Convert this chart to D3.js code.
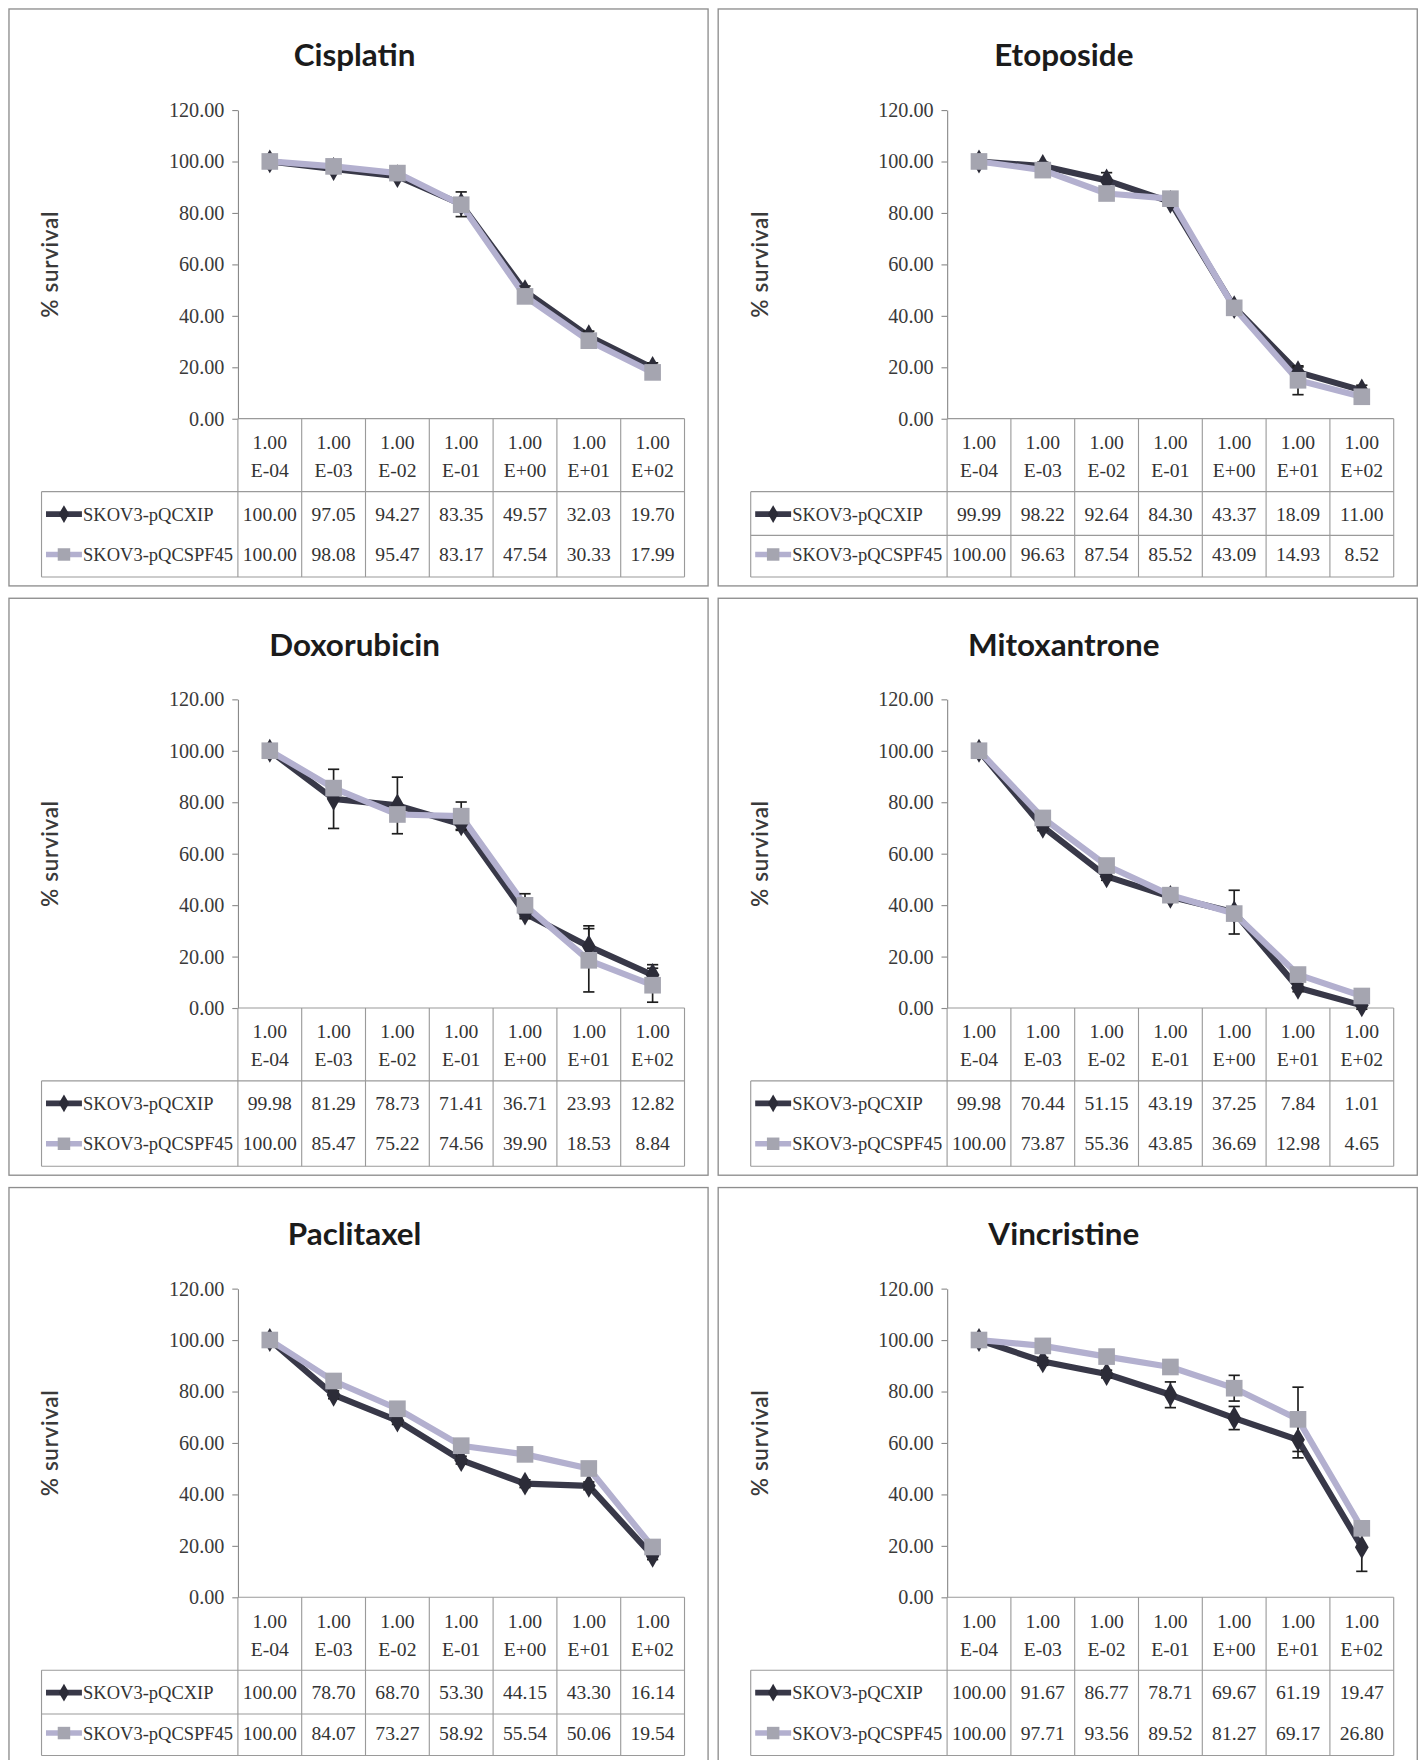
<!DOCTYPE html>
<html>
<head>
<meta charset="utf-8">
<script src="https://cdn.jsdelivr.net/npm/d3@7"></script>
<style>
  html, body { margin: 0; padding: 0; background: #fff; }
  svg { display: block; }
</style>
</head>
<body>
<svg id="chart"></svg>
<script>
// ---------------- DATA ----------------
const drugs = ["Cisplatin", "Etoposide", "Doxorubicin", "Mitoxantrone", "Paclitaxel", "Vincristine"];
const doseMantissa = ["1.00", "1.00", "1.00", "1.00", "1.00", "1.00", "1.00"];
const doseExponent = ["E-04", "E-03", "E-02", "E-01", "E+00", "E+01", "E+02"];
const seriesNames = ["SKOV3-pQCXIP", "SKOV3-pQCSPF45"];
const yTickValues = [0, 20, 40, 60, 80, 100, 120];

const cisplatinXIP   = [100.00, 97.05, 94.27, 83.35, 49.57, 32.03, 19.70];
const cisplatinSPF   = [100.00, 98.08, 95.47, 83.17, 47.54, 30.33, 17.99];
const etoposideXIP   = [99.99, 98.22, 92.64, 84.30, 43.37, 18.09, 11.00];
const etoposideSPF   = [100.00, 96.63, 87.54, 85.52, 43.09, 14.93, 8.52];
const doxorubicinXIP = [99.98, 81.29, 78.73, 71.41, 36.71, 23.93, 12.82];
const doxorubicinSPF = [100.00, 85.47, 75.22, 74.56, 39.90, 18.53, 8.84];
const mitoxantroneXIP = [99.98, 70.44, 51.15, 43.19, 37.25, 7.84, 1.01];
const mitoxantroneSPF = [100.00, 73.87, 55.36, 43.85, 36.69, 12.98, 4.65];
const paclitaxelXIP  = [100.00, 78.70, 68.70, 53.30, 44.15, 43.30, 16.14];
const paclitaxelSPF  = [100.00, 84.07, 73.27, 58.92, 55.54, 50.06, 19.54];
const vincristineXIP = [100.00, 91.67, 86.77, 78.71, 69.67, 61.19, 19.47];
const vincristineSPF = [100.00, 97.71, 93.56, 89.52, 81.27, 69.17, 26.80];

// error bar half-widths
const cisplatinErrXIP   = [1, 1.5, 1.5, 4.8, 2, 2, 2];
const cisplatinErrSPF   = [1, 1, 1, 1.5, 1.5, 1.5, 1.5];
const etoposideErrXIP   = [1, 1.5, 3, 1.5, 1.5, 2, 2];
const etoposideErrSPF   = [1, 1.5, 1.5, 1.5, 1.5, 5.6, 2.5];
const doxorubicinErrXIP = [1, 11.5, 11, 2, 2, 8, 4];
const doxorubicinErrSPF = [1, 2, 2, 5.5, 4.5, 12.3, 6.6];
const mitoxantroneErrXIP = [1, 1.5, 1.5, 1.5, 8.5, 1.5, 1.5];
const mitoxantroneErrSPF = [1, 1.5, 1.5, 1.5, 2, 1.5, 1.5];
const paclitaxelErrXIP  = [1, 1.5, 1.5, 1.5, 1.5, 1.5, 1.5];
const paclitaxelErrSPF  = [1, 1.5, 1.5, 1.5, 1.5, 1.5, 1.5];
const vincristineErrXIP = [1, 1.5, 1.5, 5, 4.5, 7, 9.4];
const vincristineErrSPF = [1, 1.5, 1.5, 1.5, 5, 12.5, 2];

const panels = [
  { title: drugs[0], s1: cisplatinXIP, s2: cisplatinSPF, e1: cisplatinErrXIP, e2: cisplatinErrSPF },
  { title: drugs[1], s1: etoposideXIP, s2: etoposideSPF, e1: etoposideErrXIP, e2: etoposideErrSPF },
  { title: drugs[2], s1: doxorubicinXIP, s2: doxorubicinSPF, e1: doxorubicinErrXIP, e2: doxorubicinErrSPF },
  { title: drugs[3], s1: mitoxantroneXIP, s2: mitoxantroneSPF, e1: mitoxantroneErrXIP, e2: mitoxantroneErrSPF },
  { title: drugs[4], s1: paclitaxelXIP, s2: paclitaxelSPF, e1: paclitaxelErrXIP, e2: paclitaxelErrSPF },
  { title: drugs[5], s1: vincristineXIP, s2: vincristineSPF, e1: vincristineErrXIP, e2: vincristineErrSPF }
];

// ---------------- DRAWING ----------------
const W = 1269, H = 1568;
const svg = d3.select("#chart")
  .attr("width", 1424).attr("height", 1760)
  .attr("viewBox", `0 0 ${W} ${H}`)
  .attr("preserveAspectRatio", "none");

svg.append("rect").attr("width", W).attr("height", H).attr("fill", "#fff");

const darkCol = "#383848", darkMark = "#2c2c38";
const lightCol = "#b3b0cf", lightMark = "#a5a5b0";
const gridCol = "#9a9a9a";
const serif = "'Liberation Serif', 'DejaVu Serif', serif";
const sans = "Lato, 'Open Sans', sans-serif";
const fmt = d3.format(".2f");
const rowDividerPanels = new Set([1, 4]);

const diamond = d3.symbol().type(d3.symbolDiamond).size(130);
const square = d3.symbol().type(d3.symbolSquare).size(220);

panels.forEach((p, i) => {
  const col = i % 2, row = Math.floor(i / 2);
  const px = 8 + col * 632, py = 8 + row * 525;
  const pw = 623, ph = 514;
  const g = svg.append("g").attr("transform", `translate(${px},${py})`);

  // panel frame
  g.append("rect").attr("x", 0).attr("y", 0).attr("width", pw).attr("height", ph)
    .attr("fill", "#fff").attr("stroke", "#8e8e8e").attr("stroke-width", 1.2);

  const axisX = 204, right = 602, yTop = 90, yBase = 365, tableLeft = 29;

  // title
  g.append("text").attr("x", 308).attr("y", 51).attr("text-anchor", "middle")
    .attr("font-family", sans).attr("font-weight", 700).attr("font-size", 28)
    .attr("fill", "#1b1b1b").text(p.title);

  // y label
  g.append("text").attr("transform", `translate(44,${(yTop + yBase) / 2}) rotate(-90)`)
    .attr("text-anchor", "middle").attr("font-family", sans).attr("font-size", 20)
    .attr("font-weight", 600).attr("letter-spacing", 0.6)
    .attr("fill", "#3a3a3a").text("% survival");

  const x = d3.scaleBand().domain(doseExponent).range([axisX, right]);
  const y = d3.scaleLinear().domain([0, 120]).range([yBase, yTop]);
  const cx = d => x(d) + x.bandwidth() / 2;

  // y axis
  const ax = g.append("g").attr("transform", `translate(${axisX},0)`)
    .call(d3.axisLeft(y).tickValues(yTickValues).tickFormat(fmt).tickSize(5).tickSizeOuter(0).tickPadding(7));
  ax.select(".domain").attr("stroke", "#8a8a8a");
  ax.selectAll(".tick line").attr("stroke", "#8a8a8a");
  ax.selectAll(".tick text").attr("font-family", serif).attr("font-size", 18).attr("fill", "#3a3a3a");

  // data table grid
  const tTop = yBase + 65, tBot = yBase + 141;
  const grid = g.append("g").attr("stroke", gridCol).attr("stroke-width", 1).attr("fill", "none");
  grid.append("line").attr("x1", axisX).attr("x2", right).attr("y1", yBase).attr("y2", yBase);
  grid.append("line").attr("x1", tableLeft).attr("x2", right).attr("y1", tTop).attr("y2", tTop);
  grid.append("line").attr("x1", tableLeft).attr("x2", right).attr("y1", tBot).attr("y2", tBot);
  grid.append("line").attr("x1", tableLeft).attr("x2", tableLeft).attr("y1", tTop).attr("y2", tBot);
  if (rowDividerPanels.has(i)) {
    grid.append("line").attr("x1", tableLeft).attr("x2", right)
      .attr("y1", (tTop + tBot) / 2 + 1).attr("y2", (tTop + tBot) / 2 + 1);
  }
  const bounds = doseExponent.map(d => x(d)).concat([right]);
  grid.selectAll(".vdiv").data(bounds).join("line")
    .attr("x1", d => d).attr("x2", d => d).attr("y1", yBase).attr("y2", tBot);

  // header labels
  const hdr = g.append("g").attr("font-family", serif).attr("font-size", 17.5)
    .attr("fill", "#333").attr("text-anchor", "middle");
  hdr.selectAll(".m").data(doseExponent).join("text")
    .attr("x", cx).attr("y", yBase + 27).text((d, k) => doseMantissa[k]);
  hdr.selectAll(".e").data(doseExponent).join("text")
    .attr("x", cx).attr("y", yBase + 52).text(d => d);

  // table rows
  const rowY = [yBase + 91, yBase + 127];
  [p.s1, p.s2].forEach((vals, si) => {
    g.append("g").attr("font-family", serif).attr("font-size", 17.5)
      .attr("fill", "#333").attr("text-anchor", "middle")
      .selectAll("text").data(vals).join("text")
      .attr("x", (d, k) => cx(doseExponent[k])).attr("y", rowY[si])
      .text(d => fmt(d));
    // legend key
    const ky = rowY[si] - 6;
    g.append("line").attr("x1", tableLeft + 4).attr("x2", tableLeft + 36)
      .attr("y1", ky).attr("y2", ky)
      .attr("stroke", si === 0 ? darkCol : lightCol).attr("stroke-width", 5);
    g.append("path").attr("d", si === 0 ? diamond() : square())
      .attr("transform", `translate(${tableLeft + 20},${ky}) scale(0.75)`)
      .attr("fill", si === 0 ? darkMark : lightMark);
    g.append("text").attr("x", tableLeft + 37).attr("y", rowY[si])
      .attr("font-family", serif).attr("font-size", 16.5).attr("fill", "#333")
      .text(seriesNames[si]);
  });

  // lines
  const line = d3.line().x((d, k) => cx(doseExponent[k])).y(d => y(d));
  const series = [
    { v: p.s1, e: p.e1, c: darkCol, m: darkMark, sym: diamond },
    { v: p.s2, e: p.e2, c: lightCol, m: lightMark, sym: square }
  ];
  series.forEach(s => {
    g.append("path").datum(s.v).attr("d", line).attr("fill", "none")
      .attr("stroke", s.c).attr("stroke-width", 5.5).attr("stroke-linejoin", "round");
  });
  // error bars
  series.forEach(s => {
    const eb = g.append("g").attr("stroke", "#1e1e1e").attr("stroke-width", 1.5);
    s.v.forEach((v, k) => {
      const xx = cx(doseExponent[k]);
      const y1 = y(v + s.e[k]), y2 = y(v - s.e[k]);
      eb.append("line").attr("x1", xx).attr("x2", xx).attr("y1", y1).attr("y2", y2);
      eb.append("line").attr("x1", xx - 5).attr("x2", xx + 5).attr("y1", y1).attr("y2", y1);
      eb.append("line").attr("x1", xx - 5).attr("x2", xx + 5).attr("y1", y2).attr("y2", y2);
    });
  });
  // markers
  series.forEach(s => {
    g.append("g").selectAll("path").data(s.v).join("path")
      .attr("d", s.sym())
      .attr("transform", (d, k) => `translate(${cx(doseExponent[k])},${y(d)})`)
      .attr("fill", s.m);
  });
});
</script>
</body>
</html>
